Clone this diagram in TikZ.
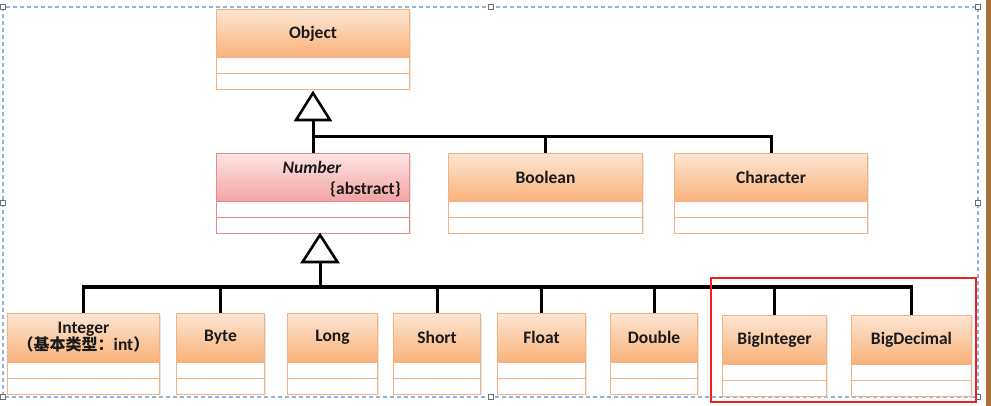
\documentclass[tikz,border=0pt]{standalone}
\usepackage{fontspec}
\setmainfont{Carlito}
\newfontfamily\cjk{Noto Sans CJK SC}
\definecolor{orTop}{HTML}{FDE6D2}
\definecolor{orBot}{HTML}{F9B27A}
\definecolor{orBorder}{HTML}{F4B183}
\definecolor{pkTop}{HTML}{FDE4E4}
\definecolor{pkBot}{HTML}{F3A3A3}
\definecolor{pkBorder}{HTML}{E08C8C}
\definecolor{textc}{HTML}{1A1A1A}
\definecolor{shadowc}{HTML}{E6E6E6}
\definecolor{selc}{HTML}{8DB3E2}
\definecolor{handlec}{HTML}{707070}
\definecolor{redc}{HTML}{F02020}
\definecolor{brownc}{HTML}{A87238}
\tikzset{
  conn/.style={line width=3pt, black, line join=miter},
  gen/.style={line width=2.6pt, black, fill=white, line join=miter},
  classhead/.style={anchor=north west, inner sep=0pt, draw=#1Border, line width=1pt,
    top color=#1Top, bottom color=#1Bot, font=\bfseries\fontsize{17.5}{20}\selectfont,
    text=textc, align=center},
  comp/.style={draw=#1Border, line width=1pt, fill=white},
  handle/.style={draw=handlec, fill=white, line width=0.8pt, minimum size=5pt, inner sep=0pt},
  sel/.style={selc, line width=1.4pt, dash pattern=on 4pt off 3pt},
}
% [colour prefix] name, left, top, width, text
\newcommand\umlbox[6][or]{%
  \fill[shadowc] (#3+1.5,#4+2) rectangle (#3+#5+1.5,#4+81.5);
  \node[classhead=#1, minimum width=#5pt, minimum height=48pt] (#2) at (#3,#4) {#6};
  \draw[comp=#1] (#2.south west) rectangle ++(#5,16);
  \draw[comp=#1] ([yshift=-16pt]#2.south west) rectangle ++(#5,16);
}
\begin{document}
\begin{tikzpicture}[x=1pt,y=-1pt]
\useasboundingbox (0,0) rectangle (991,406);
\fill[white] (0,0) rectangle (991,406);
\fill[brownc] (986,0) rectangle (991,406);
% selection frame
\draw[sel] (3,7) rectangle (978,397);
\foreach \p/\n in {{3,7}/h1,{491,7}/h2,{978,7}/h3,{3,203}/h4,{978,203}/h5,{3,397}/h6,{491,397}/h7,{978,397}/h8}
  \node[handle] (\n) at (\p) {};
% classes
\umlbox{Object}{216}{9}{193}{Object}
\umlbox[pk]{Number}{216}{153}{193}{}
\node[anchor=base, font=\bfseries\itshape\fontsize{17.5}{20}\selectfont, text=textc] (Number-name) at (312,174) {Number};
\node[anchor=base east, font=\bfseries\fontsize{17.5}{20}\selectfont, text=textc, inner sep=0pt] (Number-stereo) at (401,195) {\{abstract\}};
\umlbox{Boolean}{448}{153}{194}{Boolean}
\umlbox{Character}{674}{153}{193}{Character}
\umlbox{Integer}{7}{313}{152}{Integer\\[-3pt]{\cjk\fontsize{16}{18}\selectfont （基本类型：}int{\cjk\fontsize{16}{18}\selectfont ）}}
\umlbox{Byte}{176}{313}{88}{Byte}
\umlbox{Long}{287}{313}{90}{Long}
\umlbox{Short}{393}{313}{87}{Short}
\umlbox{Float}{497}{313}{88}{Float}
\umlbox{Double}{610}{313}{87}{Double}
\umlbox{BigInteger}{722}{315}{104}{BigInteger}
\umlbox{BigDecimal}{851}{315}{120}{BigDecimal}
% generalisation Object <- Number, Boolean, Character
\coordinate (objtip) at (313,93);
\coordinate (objbase) at (313,120);
\coordinate (j1) at (313,137);
\draw[conn] (objbase) -- (j1 |- Number.north);
\draw[conn] (j1) -| (Character.north);
\draw[conn] (Boolean.north) -- (Boolean.north |- j1);
\draw[gen] (objtip) -- ++(-17,27) -- ++(34,0) -- cycle;
% generalisation Number <- subclasses
\coordinate (numtip) at (320,235);
\coordinate (numbase) at (320,262);
\coordinate (j2) at (320,287);
\draw[conn] (numbase) -- (j2);
\draw[conn] (Integer.north) |- (j2) -| (BigDecimal.north);
\foreach \c in {Byte,Short,Float,Double,BigInteger}
  \draw[conn] (\c.north) -- (\c.north |- j2);
\draw[gen] (numtip) -- ++(-17.5,27) -- ++(35,0) -- cycle;
% highlight
\draw[redc, line width=1.2pt] (711,278) rectangle (976,402);
\end{tikzpicture}
\end{document}
